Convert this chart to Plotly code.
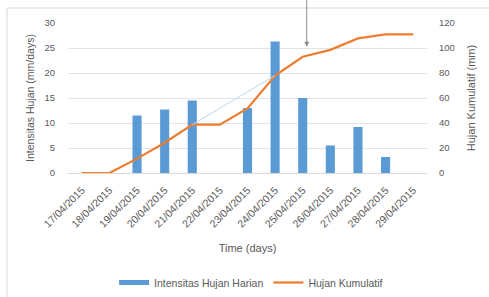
import plotly.graph_objects as go

dates = ["17/04/2015", "18/04/2015", "19/04/2015", "20/04/2015", "21/04/2015",
         "22/04/2015", "23/04/2015", "24/04/2015", "25/04/2015", "26/04/2015",
         "27/04/2015", "28/04/2015", "29/04/2015"]
intensitas = [0, 0, 11.5, 12.7, 14.5, 0, 13.0, 26.3, 15.0, 5.5, 9.2, 3.2, 0]
kumulatif = [0, 0, 11.5, 24.2, 38.7, 38.7, 51.7, 78.0, 93.0, 98.5, 107.7, 110.9, 110.9]
left_ticks = [0, 5, 10, 15, 20, 25, 30]
right_ticks = [0, 20, 40, 60, 80, 100, 120]

FONT = "Liberation Sans"
TXT = "#595959"
BLUE = "#5B9BD5"
ORANGE = "#ED7D31"
CLEAR = "rgba(0,0,0,0)"

fig = go.Figure()
fig.add_trace(go.Bar(x=dates, y=intensitas, name="Intensitas Hujan Harian", showlegend=False,
                     marker=dict(color=BLUE, line=dict(width=0)), width=0.33))
# legend entry for bars (Excel-style thick line swatch)
fig.add_trace(go.Scatter(x=[None], y=[None], name="Intensitas Hujan Harian", mode="lines",
                         line=dict(color=BLUE, width=5)))
fig.add_trace(go.Scatter(x=dates, y=kumulatif, name="Hujan Kumulatif", yaxis="y2",
                         mode="lines", line=dict(color=ORANGE, width=2.25)))
# thin light blue stray line between 21/04 and 24/04 cumulative points
fig.add_trace(go.Scatter(x=[dates[4], dates[7]], y=[kumulatif[4], kumulatif[7]], yaxis="y2",
                         mode="lines", line=dict(color="#BDD7EE", width=1), showlegend=False,
                         hoverinfo="skip"))

fig.add_annotation(x=dates[8], y=kumulatif[8] + 8, xref="x", yref="y2", xshift=4,
                   axref="x", ax=dates[8], ayref="y2", ay=140,
                   showarrow=True, arrowhead=2, arrowsize=1, arrowwidth=1,
                   arrowcolor="#8C8C8C", text="")

# outer chart frame lines (left and top)
fig.add_shape(type="line", xref="paper", yref="paper", x0=-0.17, x1=1.2, y0=1.1, y1=1.1,
              line=dict(color="#D9D9D9", width=1))
fig.add_shape(type="line", xref="paper", yref="paper", x0=-0.17, x1=-0.17, y0=1.1, y1=-0.85,
              line=dict(color="#D9D9D9", width=1))

fig.update_layout(
    width=489, height=297,
    margin=dict(l=68, r=62, t=23, b=124, autoexpand=False),
    paper_bgcolor="white", plot_bgcolor="white",
    font=dict(family=FONT, size=10, color=TXT),
    showlegend=True,
    legend=dict(orientation="h", x=0.51, xanchor="center", y=-0.73, yanchor="middle",
                font=dict(size=10.5, color=TXT), traceorder="normal"),
    xaxis=dict(type="category", tickangle=-45, tickfont=dict(size=10.5, color=TXT),
               title=dict(text="Time (days)", font=dict(size=11, color=TXT), standoff=15),
               showgrid=False, showline=True, linecolor="#D9D9D9",
               ticks="outside", ticklen=6, tickcolor=CLEAR,
               range=[-0.5, 12.5], automargin=False),
    yaxis=dict(range=[0, 30], tickvals=left_ticks, showgrid=True, gridcolor="#E3E3E3",
               zeroline=False, tickfont=dict(size=9.5, color=TXT), automargin=False,
               ticks="outside", ticklen=10, tickcolor=CLEAR,
               title=dict(text="Intensitas Hujan (mm/days)", font=dict(size=10.5, color=TXT), standoff=7)),
    yaxis2=dict(range=[0, 120], tickvals=right_ticks, overlaying="y", side="right",
                showgrid=False, zeroline=False, tickfont=dict(size=9.5, color=TXT), automargin=False,
                ticks="outside", ticklen=9, tickcolor=CLEAR,
                title=dict(text="Hujan Kumulatif (mm)", font=dict(size=11, color=TXT), standoff=13)),
)

fig.write_html("out.html", config={"displayModeBar": False},
               post_script="document.body.style.margin='0';")
